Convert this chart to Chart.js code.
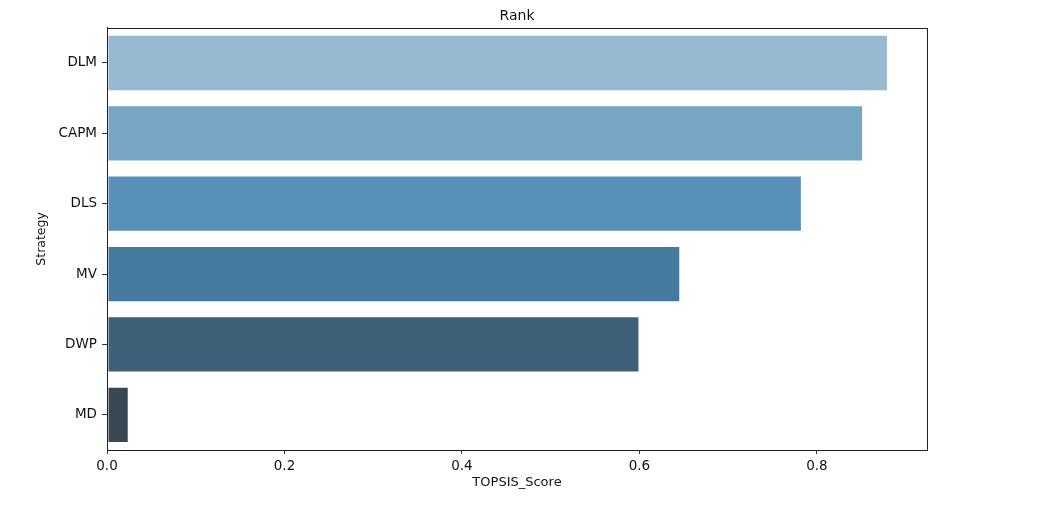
<!DOCTYPE html>
<html>
<head>
<meta charset="utf-8">
<script src="https://cdn.jsdelivr.net/npm/chart.js@4/dist/chart.umd.min.js"></script>
<style>
    html, body { margin: 0; padding: 0; background: #fff; }
    canvas { display: block; }
</style>
</head>
<body>
<canvas id="rankChart" width="1037" height="511"></canvas>
<script>
const strategies = ["DLM", "CAPM", "DLS", "MV", "DWP", "MD"];
const topsisScores = [0.880, 0.852, 0.783, 0.646, 0.600, 0.0245];
const barColors = ["#97b9d2", "#77a6c4", "#5990b8", "#45799e", "#3e6179", "#3a4854"];
const xTickValues = [0.0, 0.2, 0.4, 0.6, 0.8];
const xMax = 0.924;

const FONT = "'DejaVu Sans', sans-serif";

// matplotlib-style box round the plot area, title centred over the plot
const frameBox = {
    id: "frameBox",
    afterLayout(chart) {
        if (chart.titleBlock) {
            chart.titleBlock.left = chart.chartArea.left;
            chart.titleBlock.right = chart.chartArea.right;
        }
    },
    afterDatasetsDraw(chart) {
        const { ctx, chartArea: a } = chart;
        ctx.save();
        ctx.strokeStyle = "#222";
        ctx.lineWidth = 1;
        ctx.strokeRect(Math.round(a.left) + 0.5, Math.round(a.top) + 0.5,
            Math.round(a.right - a.left), Math.round(a.bottom - a.top));
        ctx.restore();
    }
};

new Chart(document.getElementById("rankChart"), {
    type: "bar",
    data: {
        labels: strategies,
        datasets: [{
            data: topsisScores,
            backgroundColor: barColors,
            borderColor: "rgba(255,255,255,0.35)",
            borderWidth: 1,
            borderSkipped: false,
            categoryPercentage: 0.8,
            barPercentage: 1.0
        }]
    },
    options: {
        indexAxis: "y",
        responsive: false,
        animation: false,
        layout: { padding: { left: 0, right: 110, top: 0, bottom: 0 } },
        plugins: {
            legend: { display: false },
            tooltip: { enabled: false },
            title: {
                display: true,
                text: "Rank",
                color: "#111",
                font: { family: FONT, size: 14, weight: "normal" },
                padding: { top: 8, bottom: 3 }
            }
        },
        scales: {
            x: {
                type: "linear",
                min: 0,
                max: xMax,
                afterFit: s => { s.height = 61; },
                afterBuildTicks: s => { s.ticks = xTickValues.map(v => ({ value: v })); },
                ticks: {
                    color: "#111",
                    font: { family: FONT, size: 13.5 },
                    padding: 4,
                    maxRotation: 0,
                    callback: v => Number(v).toFixed(1)
                },
                grid: { display: true, drawOnChartArea: false, drawTicks: true, tickLength: 4, color: "#333" },
                border: { display: true, color: "#222", width: 1 },
                title: {
                    display: true,
                    text: "TOPSIS_Score",
                    color: "#111",
                    font: { family: FONT, size: 13 },
                    padding: { top: 0, bottom: 21 }
                }
            },
            y: {
                afterFit: s => { s.width = 107; },
                ticks: {
                    color: "#111",
                    font: { family: FONT, size: 13.5 },
                    padding: 5
                },
                grid: { display: true, offset: false, drawOnChartArea: false, drawTicks: true, tickLength: 5, color: "#333" },
                border: { display: true, color: "#222", width: 1 },
                title: {
                    display: true,
                    text: "Strategy",
                    color: "#111",
                    font: { family: FONT, size: 12.5 },
                    padding: { top: 34, bottom: 0 }
                }
            }
        }
    },
    plugins: [frameBox]
});
</script>
</body>
</html>
